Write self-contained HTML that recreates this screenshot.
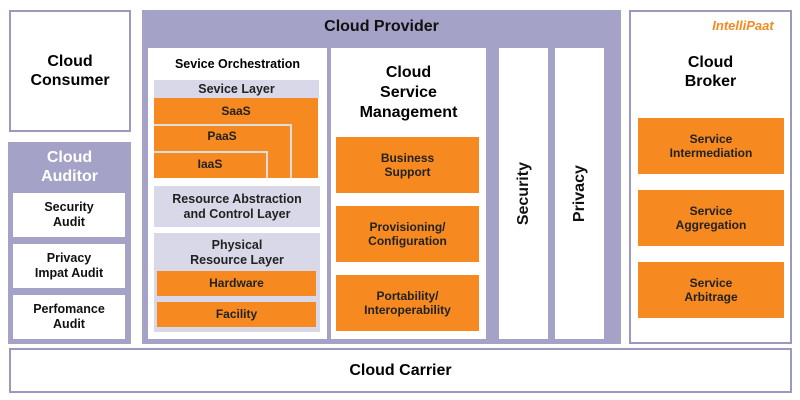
<!DOCTYPE html><html><head><style>
body{margin:0;width:800px;height:400px;background:#fff;position:relative;font-family:"Liberation Sans",sans-serif;font-weight:bold;overflow:hidden}
div{position:absolute;box-sizing:border-box;display:flex;align-items:center;justify-content:center;text-align:center;line-height:1.2}
.o{background:#f6891f;color:#222;font-size:12px}
.g{background:#d9d8e8;color:#222;font-size:12.5px}
.w{background:#fff;color:#111}
</style></head><body>
<div style="left:9px;top:10px;width:122px;height:122px;border:2px solid #9c99bf;font-size:16px">Cloud<br>Consumer</div>
<div style="left:8px;top:142px;width:123px;height:202px;background:#a4a2c6"></div>
<div style="left:8px;top:146px;width:123px;height:42px;color:#fff;font-size:16px">Cloud<br>Auditor</div>
<div class="w" style="left:13px;top:193px;width:112px;height:44px;font-size:12.5px">Security<br>Audit</div>
<div class="w" style="left:13px;top:244px;width:112px;height:44px;font-size:12.5px">Privacy<br>Impat Audit</div>
<div class="w" style="left:13px;top:295px;width:112px;height:44px;font-size:12.5px">Perfomance<br>Audit</div>
<div style="left:142px;top:10px;width:479px;height:334px;background:#a4a2c6"></div>
<div style="left:142px;top:14px;width:479px;height:26px;font-size:16px;color:#111">Cloud Provider</div>
<div class="w" style="left:148px;top:48px;width:179px;height:291px"></div>
<div style="left:148px;top:55px;width:179px;height:18px;font-size:12.5px">Sevice Orchestration</div>
<div class="g" style="left:154px;top:80px;width:165px;height:18px">Sevice Layer</div>
<div class="o" style="left:154px;top:98px;width:164px;height:80px;align-items:flex-start;padding-top:6px">SaaS</div>
<div style="left:154px;top:124px;width:138px;height:54px;border-top:2px solid #ddd;border-right:2px solid #ddd"></div>
<div class="o" style="left:154px;top:126px;width:136px;height:20px">PaaS</div>
<div style="left:154px;top:151px;width:114px;height:27px;border-top:2px solid #ddd;border-right:2px solid #ddd"></div>
<div class="o" style="left:154px;top:153px;width:112px;height:22px">IaaS</div>
<div class="g" style="left:154px;top:186px;width:166px;height:41px">Resource Abstraction<br>and Control Layer</div>
<div class="g" style="left:154px;top:233px;width:166px;height:99px;align-items:flex-start;padding-top:5px">Physical<br>Resource Layer</div>
<div class="o" style="left:157px;top:271px;width:159px;height:25px">Hardware</div>
<div class="o" style="left:157px;top:302px;width:159px;height:25px">Facility</div>
<div class="w" style="left:331px;top:48px;width:155px;height:291px"></div>
<div style="left:331px;top:62px;width:155px;height:62px;font-size:16px;line-height:1.25">Cloud<br>Service<br>Management</div>
<div class="o" style="left:336px;top:137px;width:143px;height:56px">Business<br>Support</div>
<div class="o" style="left:336px;top:206px;width:143px;height:56px">Provisioning/<br>Configuration</div>
<div class="o" style="left:336px;top:275px;width:143px;height:56px">Portability/<br>Interoperability</div>
<div class="w" style="left:499px;top:48px;width:49px;height:291px"><span style="transform:rotate(-90deg);font-size:16px;white-space:nowrap">Security</span></div>
<div class="w" style="left:555px;top:48px;width:49px;height:291px"><span style="transform:rotate(-90deg);font-size:16px;white-space:nowrap">Privacy</span></div>
<div style="left:629px;top:10px;width:163px;height:334px;border:2px solid #9c99bf"></div>
<div style="left:700px;top:16px;width:86px;height:20px;font-size:13px;color:#f6891f;font-style:italic">IntelliPaat</div>
<div style="left:629px;top:50px;width:163px;height:44px;font-size:16px">Cloud<br>Broker</div>
<div class="o" style="left:638px;top:118px;width:146px;height:56px">Service<br>Intermediation</div>
<div class="o" style="left:638px;top:190px;width:146px;height:56px">Service<br>Aggregation</div>
<div class="o" style="left:638px;top:262px;width:146px;height:56px">Service<br>Arbitrage</div>
<div style="left:9px;top:348px;width:783px;height:45px;border:2px solid #9c99bf;font-size:16px">Cloud Carrier</div>
</body></html>
